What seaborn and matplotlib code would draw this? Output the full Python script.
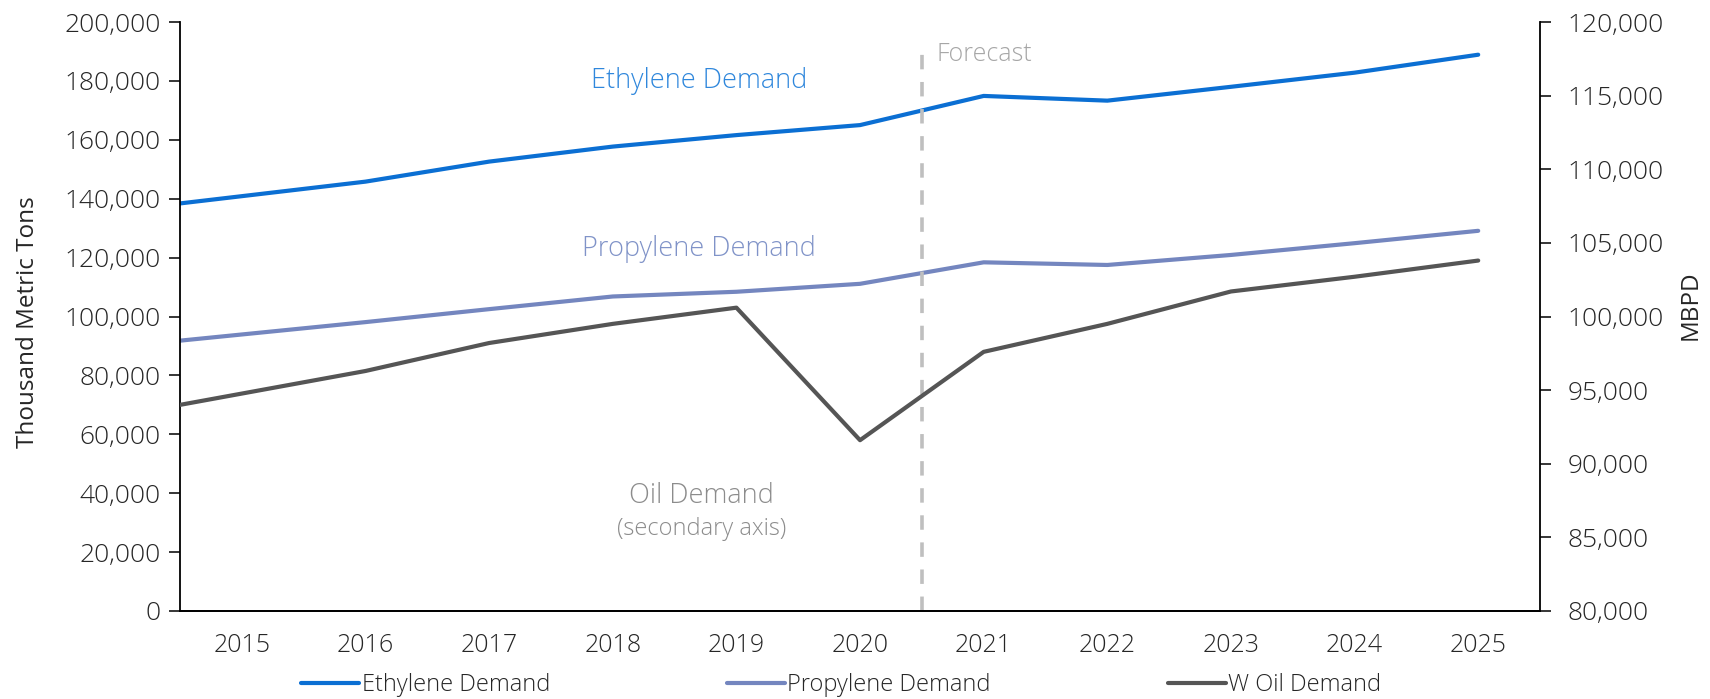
import numpy as np
import pandas as pd
import matplotlib
matplotlib.use("Agg")
import matplotlib.pyplot as plt
from matplotlib.ticker import FuncFormatter, FixedLocator
import seaborn as sns

# data (first point sits on the left edge of the plot)
years = [2015, 2016, 2017, 2018, 2019, 2020, 2021, 2022, 2023, 2024, 2025]
x_pts = [2014.5, 2016, 2017, 2018, 2019, 2020, 2021, 2022, 2023, 2024, 2025]
ethylene = [138400, 145800, 152600, 157700, 161600, 165000, 174900, 173300, 178000, 182800, 188900]
propylene = [91800, 98100, 102500, 106800, 108400, 111100, 118400, 117500, 120900, 124900, 129100]
oil = [94000, 96300, 98200, 99500, 100600, 91600, 97600, 99500, 101700, 102700, 103800]
forecast_x = 2020.5

c_eth = "#0b6fd3"
c_pro = "#7486bf"
c_oil = "#555555"

sns.set_style("white")
plt.rcParams["font.family"] = ["Open Sans", "DejaVu Sans"]
plt.rcParams["font.weight"] = "light"

fig = plt.figure(figsize=(17.1, 6.99), dpi=100)
ax = fig.add_axes([0.1053, 0.1259, 0.7953, 0.8426])
ax2 = ax.twinx()

df = pd.DataFrame({"x": x_pts, "eth": ethylene, "pro": propylene, "oil": oil})
sns.lineplot(data=df, x="x", y="eth", ax=ax, color=c_eth, lw=3, label="Ethylene Demand", legend=False)
sns.lineplot(data=df, x="x", y="pro", ax=ax, color=c_pro, lw=3, label="Propylene Demand", legend=False)
sns.lineplot(data=df, x="x", y="oil", ax=ax2, color=c_oil, lw=3, label="W Oil Demand", legend=False)

ax.plot([forecast_x, forecast_x], [0, 191500], color="#bfbfbf", lw=2.6, ls=(0, (4, 3.5)))

ax.set_xlim(2014.5, 2025.5)
ax.set_ylim(0, 200000)
ax2.set_ylim(80000, 120000)

fmt = FuncFormatter(lambda v, p: f"{v:,.0f}")
ax.set_yticks(np.arange(0, 200001, 20000))
ax.yaxis.set_major_formatter(fmt)
ax2.set_yticks(np.arange(80000, 120001, 5000))
ax2.yaxis.set_major_formatter(fmt)

ax.set_xticks(years)
ax.set_xticklabels([str(y) for y in years])
ax.xaxis.set_minor_locator(FixedLocator(np.arange(2014.5, 2026, 1)))
ax.tick_params(axis="x", which="major", length=0, pad=16, labelsize=18)
ax.tick_params(axis="x", which="minor", length=8, width=1.3, direction="out", color="black")
ax.tick_params(axis="y", length=8, width=1.3, direction="out", labelsize=19, pad=6, left=True)
ax2.tick_params(axis="y", length=8, width=1.3, direction="out", labelsize=19, pad=12, right=True)

for a in (ax, ax2):
    a.spines["top"].set_visible(False)
    for s in ("left", "right", "bottom"):
        a.spines[s].set_linewidth(1.3)
        a.spines[s].set_color("black")
ax.spines["right"].set_visible(False)
ax2.spines["left"].set_visible(False)

ax.set_xlabel("")
ax.set_ylabel("Thousand Metric Tons", fontsize=17.5)
ax.yaxis.set_label_coords(-0.103, 0.49)
ax2.set_ylabel("MBPD", fontsize=17.5)
ax2.yaxis.set_label_coords(1.102, 0.52)

# in-chart labels
ax.text(2018.7, 180000, "Ethylene Demand", color="#2f87dc", fontsize=19.5, ha="center", va="center")
ax.text(2018.7, 123000, "Propylene Demand", color="#8093c8", fontsize=19.5, ha="center", va="center")
ax.text(2018.72, 39000, "Oil Demand", color="#8c8c8c", fontsize=19.5, ha="center", va="center")
ax.text(2018.72, 27800, "(secondary axis)", color="#8c8c8c", fontsize=17, ha="center", va="center")
ax.text(2020.62, 189000, "Forecast", color="#a6a6a6", fontsize=18, ha="left", va="center")

h1, l1 = ax.get_legend_handles_labels()
h2, l2 = ax2.get_legend_handles_labels()
fig.legend(h1 + h2, l1 + l2, loc="center", bbox_to_anchor=(0.492, 0.02), ncol=3, frameon=False,
           fontsize=17, handlelength=2.45, handletextpad=0.1, columnspacing=7.5)

fig.savefig("out.png", dpi=100)
